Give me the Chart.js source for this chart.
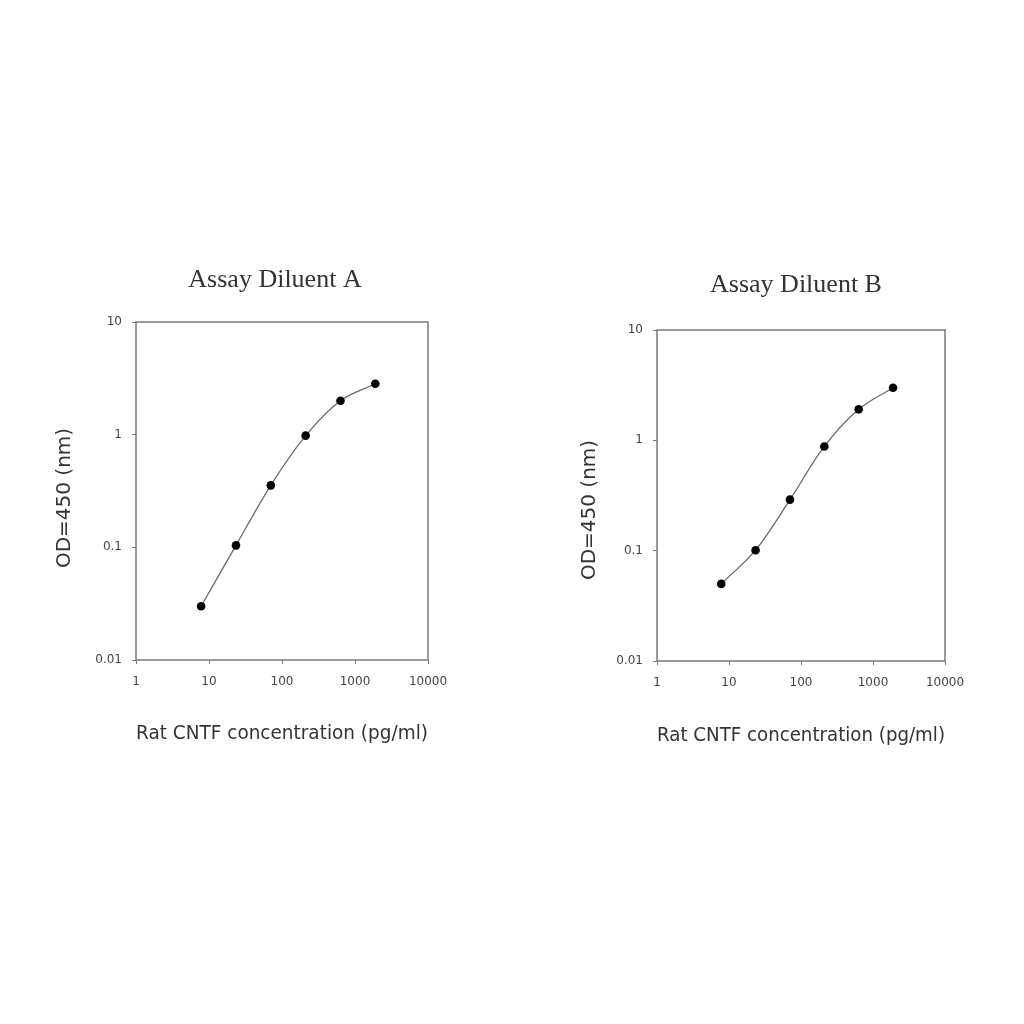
<!DOCTYPE html>
<html>
<head>
<meta charset="utf-8">
<script src="https://cdn.jsdelivr.net/npm/chart.js@4"></script>
<style>
  body { margin: 0; background: #fff; width: 1024px; height: 1024px; position: relative; overflow: hidden; }
  canvas { position: absolute; }
  #chartA { left: 20px; top: 240px; }
  #chartB { left: 540px; top: 250px; }
</style>
</head>
<body>
<canvas id="chartA" width="460" height="530"></canvas>
<canvas id="chartB" width="460" height="520"></canvas>
<script>
// data
const concentrations = [7.8, 23.4, 70.3, 210.9, 632.8, 1898];
const odDiluentA = [0.030, 0.104, 0.355, 0.98, 2.0, 2.83];
const odDiluentB = [0.050, 0.101, 0.29, 0.88, 1.91, 3.0];
const xTicks = [1, 10, 100, 1000, 10000];
const yTicks = [0.01, 0.1, 1, 10];

const frameColor = '#7a7a7a';
const sansFont = '"DejaVu Sans", Arial, sans-serif';

// box around the plot area, panel title and the rotated y title
const framePlugin = {
    id: 'frame',
    afterDraw(chart, args, opts) {
        const a = chart.chartArea;
        const ctx = chart.ctx;
        ctx.save();
        ctx.strokeStyle = frameColor;
        ctx.lineWidth = 1.5;
        ctx.strokeRect(a.left, a.top, a.right - a.left, a.bottom - a.top);

        ctx.fillStyle = '#333';
        ctx.textAlign = 'center';
        ctx.textBaseline = 'middle';
        ctx.font = '26px "Liberation Serif", "Times New Roman", serif';
        ctx.fillText(opts.text, opts.x, opts.y);

        ctx.font = '20px ' + sansFont;
        ctx.translate(opts.yLabelX, opts.yLabelY);
        ctx.rotate(-Math.PI / 2);
        ctx.fillText('OD=450 (nm)', 0, 0);
        ctx.restore();
    }
};

function makeChart(id, title, values, opts) {
    const ctx = document.getElementById(id).getContext('2d');
    return new Chart(ctx, {
        type: 'line',
        data: {
            datasets: [{
                data: concentrations.map((c, i) => ({ x: c, y: values[i] })),
                borderColor: '#6a6a6a',
                borderWidth: 1.3,
                tension: 0.35,
                pointRadius: 4.3,
                pointBackgroundColor: '#000',
                pointBorderColor: '#000',
                pointBorderWidth: 0
            }]
        },
        options: {
            responsive: false,
            animation: false,
            layout: { padding: { top: opts.top, right: opts.right } },
            plugins: {
                legend: { display: false },
                tooltip: { enabled: false },
                frame: { text: title, x: opts.titleX, y: opts.titleY, yLabelX: opts.yLabelX, yLabelY: opts.yLabelY }
            },
            scales: {
                x: {
                    type: 'logarithmic',
                    min: 1,
                    max: 10000,
                    afterBuildTicks: s => { s.ticks = xTicks.map(v => ({ value: v })); },
                    afterFit: s => { s.height = opts.xHeight; },
                    border: { display: false },
                    grid: { drawOnChartArea: false, drawTicks: true, tickLength: 4, color: frameColor },
                    ticks: {
                        autoSkip: false,
                        maxRotation: 0,
                        padding: 11,
                        color: '#444',
                        font: { family: sansFont, size: 12 },
                        callback: v => String(v)
                    },
                    title: {
                        display: true,
                        text: 'Rat CNTF concentration (pg/ml)',
                        color: '#333',
                        font: { family: sansFont, size: 19, lineHeight: 1.2 },
                        padding: { top: opts.xTitlePad, bottom: opts.xTitlePad }
                    }
                },
                y: {
                    type: 'logarithmic',
                    min: 0.01,
                    max: 10,
                    afterBuildTicks: s => { s.ticks = yTicks.map(v => ({ value: v })); },
                    afterFit: s => { s.width = opts.yWidth; },
                    border: { display: false },
                    grid: { drawOnChartArea: false, drawTicks: true, tickLength: 4, color: frameColor },
                    ticks: {
                        autoSkip: false,
                        padding: 10,
                        color: '#444',
                        font: { family: sansFont, size: 12 },
                        callback: v => String(v)
                    }
                }
            }
        },
        plugins: [framePlugin]
    });
}

makeChart('chartA', 'Assay Diluent A', odDiluentA, {
    top: 82, right: 52, titleX: 255, titleY: 40, xHeight: 110, xTitlePad: 25, yWidth: 116,
    yLabelX: 45, yLabelY: 258
});
makeChart('chartB', 'Assay Diluent B', odDiluentB, {
    top: 80, right: 55, titleX: 256, titleY: 35, xHeight: 109, xTitlePad: 23, yWidth: 117,
    yLabelX: 50, yLabelY: 260
});
</script>
</body>
</html>
